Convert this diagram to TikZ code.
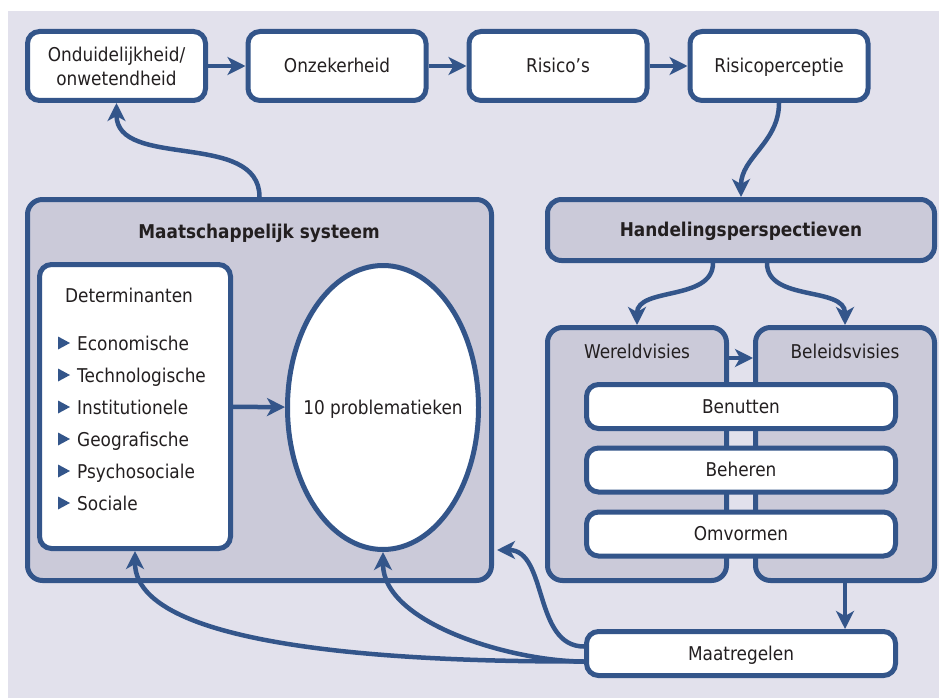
\documentclass[tikz,border=0pt]{standalone}
\usepackage{fontspec}
\setmainfont{DejaVu Sans}[FakeStretch=0.89]
\usepackage{tikz}
\usetikzlibrary{
    positioning,
    arrows.meta,
    shapes.geometric,
    calc
}
\definecolor{lijnblauw}{HTML}{33558A}
\definecolor{achtergrond}{HTML}{E2E1EC}
\definecolor{vakgrijs}{HTML}{CBCAD9}
\definecolor{tekstkleur}{HTML}{231F20}
\tikzset{
    >={Stealth[length=18pt, width=18pt, inset=5pt]},
    opschrift/.style={
        text=tekstkleur,
        font=\fontsize{19}{24}\selectfont,
        inner sep=0pt
    },
    vast/.style={
        text height=13.9pt,
        text depth=0pt
    },
    blok/.style={
        opschrift,
        draw=lijnblauw,
        line width=5pt,
        fill=white,
        rounded corners=12pt,
        align=center
    },
    stap/.style={
        blok,
        minimum width=178pt,
        minimum height=69pt
    },
    groep/.style={
        blok,
        fill=vakgrijs,
        rounded corners=15pt
    },
    balk/.style={
        blok,
        vast,
        minimum width=309pt,
        minimum height=44pt
    },
    pijl/.style={
        ->,
        draw=lijnblauw,
        line width=4.5pt
    }
}

\begin{document}
\begin{tikzpicture}[
    x=1pt,
    y=-1pt
]

    \useasboundingbox (0,0) rectangle (939,698);
    \fill[achtergrond] (8,11) rectangle (939,698);

    % Bovenste rij
    \node[stap]       (ondui)  at (116.5,66) {Onduidelijkheid/\\onwetendheid};
    \node[stap, vast] (onzek)  at (337,66)   {Onzekerheid};
    \node[stap, vast] (risico) at (558,66)   {Risico's};
    \node[stap, vast] (percep) at (779,66)   {Risicoperceptie};

    % Maatschappelijk systeem
    \node[groep, minimum width=464pt, minimum height=381pt]
        (maatsys) at (259.5,390) {};
    \node[opschrift, vast, font=\bfseries\fontsize{19}{24}\selectfont]
        (systitel) at (259,232) {Maatschappelijk systeem};
    \node[blok, minimum width=191pt, minimum height=284pt]
        (determ) at (135,406.5) {};
    \node[opschrift, vast] (dettitel) at (129,296) {Determinanten};
    \foreach \naam [count=\i] in {
        Economische,
        Technologische,
        Institutionele,
        Geografische,
        Psychosociale,
        Sociale
    }{
        \fill[lijnblauw] (58,{336.5+32*(\i-1)}) -- (70,{343+32*(\i-1)})
            -- (58,{349.5+32*(\i-1)}) -- cycle;
        \node[opschrift, anchor=base west]
            (item\i) at (77,{350+32*(\i-1)}) {\naam};
    }
    \node[blok, ellipse, minimum width=191pt, minimum height=284pt]
        (probl) at (383,407.5) {};
    \node[opschrift, vast] (probltekst) at (probl) {10 problematieken};

    % Handelingsperspectieven
    \node[groep, vast, rounded corners=14pt, minimum width=387pt, minimum height=61pt,
          font=\bfseries\fontsize{19}{24}\selectfont]
        (handel) at (741,230) {Handelingsperspectieven};
    \node[groep, minimum width=179pt, minimum height=253pt]
        (wereld) at (637,454) {};
    \node[groep, minimum width=179pt, minimum height=253pt]
        (beleid) at (845,454) {};
    \node[opschrift, vast] (wertitel) at (637,352) {Wereldvisies};
    \node[opschrift, vast] (beltitel) at (845,352) {Beleidsvisies};
    \node[balk] (benut)   at (741,406.5) {Benutten};
    \node[balk] (beheer)  at (741,470)   {Beheren};
    \node[balk] (omvorm)  at (741,534)   {Omvormen};
    \node[balk] (maatreg) at (741,653.5) {Maatregelen};

    % Verbindingen
    \draw[pijl] (ondui) -- (onzek);
    \draw[pijl] (onzek) -- (risico);
    \draw[pijl] (risico) -- (percep);
    \draw[pijl] (maatsys.north) to[out=90, in=-90] (ondui.south);
    \draw[pijl] (percep.south) to[out=-90, in=90] (handel.north);
    \draw[pijl] ([xshift=-28pt]handel.south) to[out=-90, in=90] (wereld.north);
    \draw[pijl] ([xshift=26pt]handel.south) to[out=-90, in=90] (beleid.north);
    \draw[pijl] ($(wereld.north east)+(0,33)$) -- ($(beleid.north west)+(0,33)$);
    \draw[pijl] (determ) -- (probl);
    \draw[pijl] (beleid.south) -- (beleid.south |- maatreg.north);

    % Terugkoppeling
    \draw[pijl] ($(maatreg.west)+(0,-7)$)
        to[out=180, in=0] ($(maatsys.east)+(3,160)$);
    \draw[pijl] ($(maatreg.west)+(0,8)$)
        to[out=180, in=-90, looseness=0.8] (probl.south);
    \draw[pijl] ($(maatreg.west)+(0,8)$)
        to[out=180, in=-90, looseness=0.6] (determ.south);

\end{tikzpicture}
\end{document}
